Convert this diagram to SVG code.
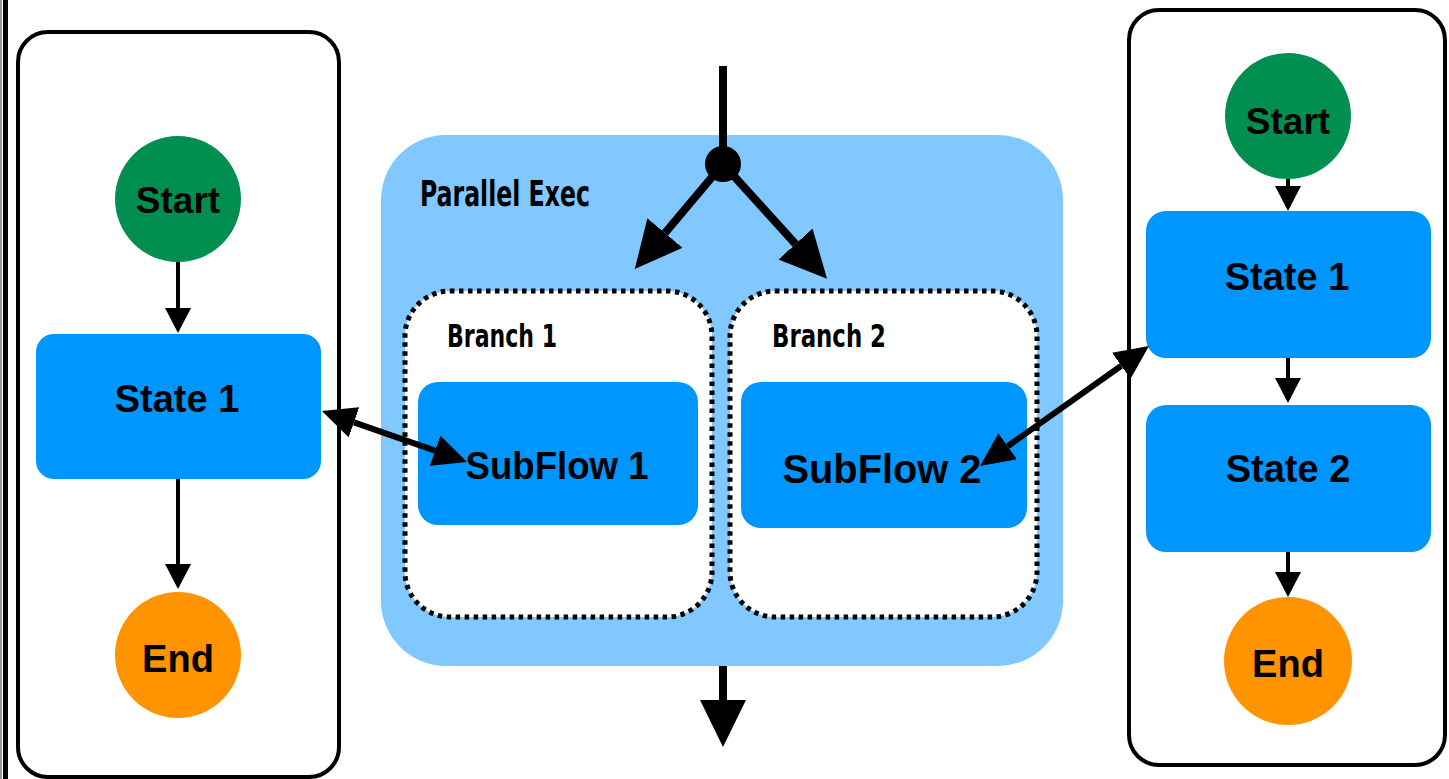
<svg xmlns="http://www.w3.org/2000/svg" width="1449" height="779" viewBox="0 0 1449 779">
  <style>
    .lbl { font-family: "Liberation Sans", Arial, sans-serif; font-weight: bold; fill: #000; text-anchor: middle; }
    .hand { font-family: "DejaVu Sans Condensed", "DejaVu Sans", sans-serif; font-weight: bold; font-stretch: condensed; fill: #000; }
    .frame { fill: #fff; stroke: #000; stroke-width: 4; }
    .state { fill: #0096FF; }
    .start { fill: #008F51; }
    .end { fill: #FF9300; }
    .branch { fill: #fff; stroke: #000; stroke-width: 5; stroke-dasharray: 4.5 4.5; }
    .thin { stroke: #000; stroke-width: 4; fill: none; }
    .mid { stroke: #000; stroke-width: 6; fill: none; }
    .thick { stroke: #000; stroke-width: 8; fill: none; }
  </style>
  <defs>
    <marker id="aS" markerUnits="userSpaceOnUse" viewBox="0 -13 25 26" refX="0" refY="0" markerWidth="25" markerHeight="26" orient="auto">
      <path d="M0,-13 L25,0 L0,13 z" fill="#000"/>
    </marker>
    <marker id="aM" markerUnits="userSpaceOnUse" viewBox="0 -16 34 32" refX="0" refY="0" markerWidth="34" markerHeight="32" orient="auto-start-reverse">
      <path d="M0,-16 L34,0 L0,16 z" fill="#000"/>
    </marker>
    <marker id="aL" markerUnits="userSpaceOnUse" viewBox="0 -23 47 46" refX="0" refY="0" markerWidth="47" markerHeight="46" orient="auto">
      <path d="M0,-23 L47,0 L0,23 z" fill="#000"/>
    </marker>
  </defs>

  <rect width="1449" height="779" fill="#fff"/>

  <!-- page edge lines -->
  <g id="edge">
    <rect x="0" y="0" width="2" height="779" fill="#9a9a9a"/>
    <rect x="3" y="0" width="5" height="779" fill="#000"/>
  </g>

  <!-- left flow -->
  <g id="left-container">
    <rect class="frame" x="18" y="32" width="321" height="745" rx="30"/>
  </g>
  <g id="left-start">
    <circle class="start" cx="178" cy="199" r="63"/>
    <text class="lbl" x="178" y="213" font-size="37">Start</text>
  </g>
  <g id="left-state1">
    <rect class="state" x="36" y="334" width="285" height="145" rx="18"/>
    <text class="lbl" x="177" y="412" font-size="38">State 1</text>
  </g>
  <g id="left-end">
    <circle class="end" cx="178" cy="655" r="63"/>
    <text class="lbl" x="178" y="672" font-size="38">End</text>
  </g>

  <!-- parallel exec -->
  <g id="parallel-exec">
    <rect x="381" y="135" width="682" height="531" rx="65" fill="#80C8FF"/>
    <text class="hand" x="420" y="206" font-size="35" textLength="170" lengthAdjust="spacingAndGlyphs">Parallel Exec</text>
  </g>
  <g id="branch1">
    <rect class="branch" x="405" y="291" width="307" height="326" rx="45"/>
    <text class="hand" x="447" y="347" font-size="32" textLength="110" lengthAdjust="spacingAndGlyphs">Branch 1</text>
  </g>
  <g id="branch2">
    <rect class="branch" x="730" y="291" width="307" height="326" rx="45"/>
    <text class="hand" x="772" y="347" font-size="32" textLength="114" lengthAdjust="spacingAndGlyphs">Branch 2</text>
  </g>
  <g id="subflow1">
    <rect class="state" x="418" y="382" width="280" height="143" rx="20"/>
    <text class="lbl" x="557" y="479" font-size="38" textLength="183" lengthAdjust="spacingAndGlyphs">SubFlow 1</text>
  </g>
  <g id="subflow2">
    <rect class="state" x="741" y="382" width="286" height="146" rx="20"/>
    <text class="lbl" x="882" y="483" font-size="40" textLength="199" lengthAdjust="spacingAndGlyphs">SubFlow 2</text>
  </g>

  <!-- right flow -->
  <g id="right-container">
    <rect class="frame" x="1129" y="10" width="316" height="755" rx="30"/>
  </g>
  <g id="right-start">
    <circle class="start" cx="1288" cy="116" r="63"/>
    <text class="lbl" x="1288" y="134" font-size="37">Start</text>
  </g>
  <g id="right-state1">
    <rect class="state" x="1146" y="211" width="285" height="147" rx="20"/>
    <text class="lbl" x="1287" y="290" font-size="38">State 1</text>
  </g>
  <g id="right-state2">
    <rect class="state" x="1146" y="405" width="285" height="147" rx="20"/>
    <text class="lbl" x="1288" y="482" font-size="38">State 2</text>
  </g>
  <g id="right-end">
    <circle class="end" cx="1288" cy="661" r="64"/>
    <text class="lbl" x="1288" y="677" font-size="38">End</text>
  </g>

  <!-- connectors -->
  <g id="connectors">
    <line class="thin" x1="178" y1="262" x2="178" y2="308" marker-end="url(#aS)"/>
    <line class="thin" x1="178" y1="479" x2="178" y2="564" marker-end="url(#aS)"/>
    <line class="thin" x1="1288" y1="179" x2="1288" y2="186" marker-end="url(#aS)"/>
    <line class="thin" x1="1288" y1="358" x2="1288" y2="378" marker-end="url(#aS)"/>
    <line class="thin" x1="1288" y1="552" x2="1288" y2="572" marker-end="url(#aS)"/>

    <line class="thick" x1="723" y1="66" x2="723" y2="164"/>
    <circle cx="723" cy="164" r="18" fill="#000"/>
    <line class="thick" x1="723" y1="164" x2="665" y2="233" marker-end="url(#aL)"/>
    <line class="thick" x1="723" y1="164" x2="795.5" y2="244" marker-end="url(#aL)"/>
    <line class="thick" x1="723" y1="666" x2="723" y2="700" marker-end="url(#aL)"/>

    <line class="mid" x1="354" y1="422.3" x2="435" y2="450.7" marker-start="url(#aM)" marker-end="url(#aM)"/>
    <line class="mid" x1="1007.7" y1="446.3" x2="1121.3" y2="365.7" marker-start="url(#aM)" marker-end="url(#aM)"/>
  </g>
</svg>
